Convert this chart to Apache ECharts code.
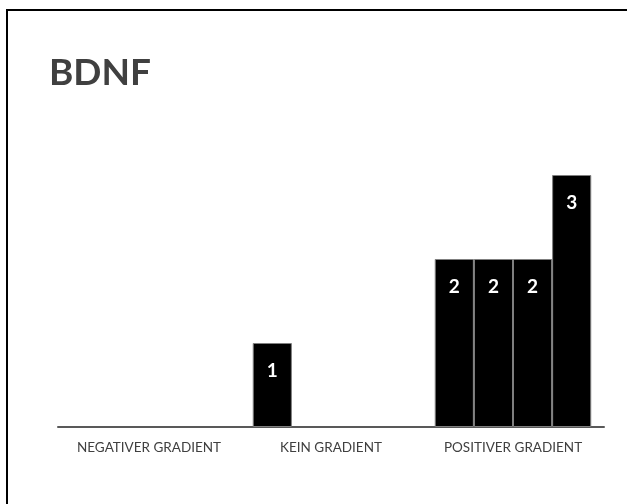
<!DOCTYPE html>
<html>
<head>
<meta charset="utf-8">
<script src="https://cdn.jsdelivr.net/npm/echarts@6/dist/echarts.min.js"></script>
<style>
  html, body { margin: 0; padding: 0; background: #fff; }
  #chart { width: 627px; height: 504px; }
</style>
</head>
<body>
<div id="chart"></div>
<script>
// Categories along the x axis
const categories = ['NEGATIVER GRADIENT', 'KEIN GRADIENT', 'POSITIVER GRADIENT'];
// One array per bar slot within each category (null = no bar)
const slot1 = [null, 1, 2];
const slot2 = [null, null, 2];
const slot3 = [null, null, 2];
const slot4 = [null, null, 3];

const FONT = 'Lato, "Open Sans", sans-serif';

function barSeries(data) {
  return {
    type: 'bar',
    data: data,
    barGap: '0%',
    barCategoryGap: '14%',
    itemStyle: { color: '#000000', borderColor: '#7f7f7f', borderWidth: 1 },
    label: {
      show: true,
      position: 'insideTop',
      distance: 18,
      color: '#ffffff',
      fontWeight: 'bold',
      fontSize: 19,
      fontFamily: FONT
    },
    emphasis: { disabled: true },
    animation: false
  };
}

const chart = echarts.init(document.getElementById('chart'));
chart.setOption({
  backgroundColor: '#ffffff',
  animation: false,
  title: {
    text: 'BDNF',
    left: 44,
    top: 50,
    textStyle: { color: '#404040', fontSize: 37, fontWeight: 'bold', fontFamily: FONT }
  },
  grid: { left: 58, right: 23, top: 175, bottom: 77 },
  xAxis: {
    type: 'category',
    data: categories,
    axisLine: { show: true, lineStyle: { color: '#595959', width: 2 } },
    axisTick: { show: false },
    axisLabel: { interval: 0, hideOverlap: false, color: '#404040', fontSize: 13.5, fontFamily: FONT, margin: 14 }
  },
  yAxis: {
    type: 'value',
    min: 0,
    max: 3,
    show: false,
    splitLine: { show: false }
  },
  series: [barSeries(slot1), barSeries(slot2), barSeries(slot3), barSeries(slot4)],
  graphic: [
    { type: 'line', shape: { x1: 7, y1: 10, x2: 7, y2: 504 }, style: { stroke: '#000', lineWidth: 2 } },
    { type: 'line', shape: { x1: 6, y1: 10, x2: 627, y2: 10 }, style: { stroke: '#000', lineWidth: 2 } }
  ]
});
</script>
</body>
</html>
